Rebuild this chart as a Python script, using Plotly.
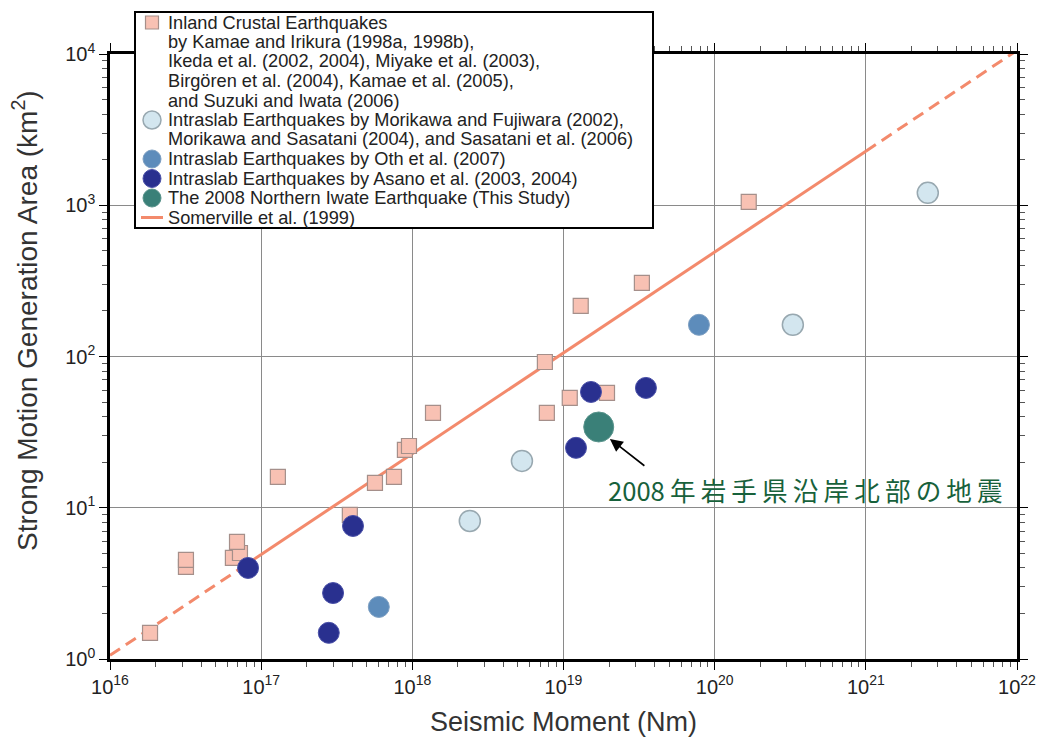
import plotly.graph_objects as go

# Inland crustal earthquakes (squares)
inland_m0 = [1.84e16, 3.18e16, 3.18e16, 6.5e16, 7.24e16, 6.92e16, 1.29e17, 3.86e17, 5.66e17,
             7.56e17, 8.93e17, 9.5e17, 1.37e18, 7.53e18, 7.76e18, 1.10e19, 1.94e19, 1.30e19,
             3.30e19, 1.68e20]
inland_area = [1.49, 4.06, 4.52, 4.66, 5.02, 5.94, 16.0, 8.96, 14.6,
               16.0, 24.1, 25.6, 42.4, 92, 42.4, 53.2, 57.4, 216,
               307, 1052]

# Intraslab by Morikawa & Fujiwara etc. (light circles)
mf_m0 = [2.40e18, 5.31e18, 3.29e20, 2.57e21]
mf_area = [8.18, 20.4, 162, 1208]

# Intraslab by Oth et al. (medium blue)
oth_m0 = [6.0e17, 7.87e19]
oth_area = [2.21, 162]

# Intraslab by Asano et al. (navy)
asano_m0 = [8.19e16, 2.99e17, 2.8e17, 4.05e17, 1.21e19, 1.52e19, 3.51e19]
asano_area = [4.0, 2.73, 1.49, 7.58, 24.9, 58.3, 62.0]

# 2008 Northern Iwate earthquake
iwate_m0 = [1.71e19]
iwate_area = [34.2]

# Somerville et al. (1999) relation: Sa = 0.22 * 2.23e-15 * M0(dyne-cm)^(2/3)
som_coef = 0.22 * 2.23e-15
som_solid_range = [1e17, 1e21]
som_low_range = [1e16, 1e17]
som_high_range = [1e21, 1e22]

x_exponents = [16, 17, 18, 19, 20, 21, 22]
y_exponents = [0, 1, 2, 3, 4]

legend_lines = [
    "Inland Crustal Earthquakes",
    "by Kamae and Irikura (1998a, 1998b),",
    "Ikeda et al. (2002, 2004), Miyake et al. (2003),",
    "Birgören et al. (2004), Kamae et al. (2005),",
    "and Suzuki and Iwata (2006)",
    "Intraslab Earthquakes by Morikawa and Fujiwara (2002),",
    "Morikawa and Sasatani (2004), and Sasatani et al. (2006)",
    "Intraslab Earthquakes by Oth et al. (2007)",
    "Intraslab Earthquakes by Asano et al. (2003, 2004)",
    "The 2008 Northern Iwate Earthquake (This Study)",
    "Somerville et al. (1999)",
]

label_text = "2008\u2009年\u2009岩\u2009手\u2009県\u2009沿\u2009岸\u2009北\u2009部\u2009の\u2009地\u2009震"


def som(m0):
    return [som_coef * (m * 1e7) ** (2.0 / 3.0) for m in m0]


# plot-area geometry in pixels
W, H = 1046, 743
L, R, T, B = 110, 29, 54, 84
PW, PH = W - L - R, H - T - B


def px(xp):
    return (xp - L) / PW


def py(yp):
    return (H - B - yp) / PH


line_color = "#f38a6c"
sq_style = dict(color="#f8c1b3", line=dict(color="#a58f8a", width=1.2))
mf_style = dict(color="#d3e6ef", line=dict(color="#98a8b0", width=1.5))
oth_style = dict(color="#5d8cbb", line=dict(color="#7d9fc2", width=1))
asano_style = dict(color="#29308f", line=dict(color="#4a50a8", width=1))
iwate_style = dict(color="#3a8078", line=dict(color="#5a948c", width=1))

fig = go.Figure()

fig.add_trace(go.Scatter(x=som_low_range, y=som(som_low_range), mode="lines",
                         line=dict(color=line_color, width=3, dash="12px,7px"),
                         showlegend=False, hoverinfo="skip"))
fig.add_trace(go.Scatter(x=som_high_range, y=som(som_high_range), mode="lines",
                         line=dict(color=line_color, width=3, dash="12px,7px"),
                         showlegend=False, hoverinfo="skip"))
fig.add_trace(go.Scatter(x=som_solid_range, y=som(som_solid_range), mode="lines",
                         name="Somerville et al. (1999)",
                         line=dict(color=line_color, width=3)))

fig.add_trace(go.Scatter(x=inland_m0, y=inland_area, mode="markers",
                         name="Inland Crustal Earthquakes",
                         marker=dict(symbol="square", size=15, **sq_style)))
fig.add_trace(go.Scatter(x=mf_m0, y=mf_area, mode="markers",
                         name="Intraslab Earthquakes by Morikawa and Fujiwara",
                         marker=dict(symbol="circle", size=21, **mf_style)))
fig.add_trace(go.Scatter(x=oth_m0, y=oth_area, mode="markers",
                         name="Intraslab Earthquakes by Oth et al. (2007)",
                         marker=dict(symbol="circle", size=21, **oth_style)))
fig.add_trace(go.Scatter(x=asano_m0, y=asano_area, mode="markers",
                         name="Intraslab Earthquakes by Asano et al. (2003, 2004)",
                         marker=dict(symbol="circle", size=21, **asano_style)))
fig.add_trace(go.Scatter(x=iwate_m0, y=iwate_area, mode="markers",
                         name="The 2008 Northern Iwate Earthquake (This Study)",
                         marker=dict(symbol="circle", size=30, **iwate_style)))

axis_common = dict(
    type="log", showline=True, linecolor="black", automargin=False,
    linewidth=2.5, mirror="allticks", ticks="outside", ticklen=8, tickwidth=1,
    tickcolor="black", showgrid=True, gridcolor="#8a8a8a", gridwidth=1,
    zeroline=False, tickfont=dict(size=20, color="#222"),
)


def minor_vals(exps):
    return [k * 10.0 ** e for e in exps[:-1] for k in range(2, 10)]


fig.update_xaxes(range=[16, 22], tickvals=[10.0 ** e for e in x_exponents],
                 ticktext=["10<sup>%d</sup>" % e for e in x_exponents],
                 minor=dict(tickvals=minor_vals(x_exponents), ticks="outside", ticklen=5,
                            tickwidth=1, tickcolor="#555", showgrid=False),
                 **axis_common)
fig.update_yaxes(range=[0, 4], tickvals=[10.0 ** e for e in y_exponents],
                 ticktext=["10<sup>%d</sup>" % e for e in y_exponents],
                 minor=dict(tickvals=minor_vals(y_exponents), ticks="outside", ticklen=5,
                            tickwidth=1, tickcolor="#555", showgrid=False),
                 **axis_common)

# axis titles
fig.add_annotation(x=px(563), y=py(722), xref="paper", yref="paper", showarrow=False,
                   xanchor="center", yanchor="middle",
                   text="Seismic Moment (Nm)", font=dict(size=27, color="#333"))
fig.add_annotation(x=px(25), y=py(321), xref="paper", yref="paper", showarrow=False,
                   xanchor="center", yanchor="middle",
                   textangle=-90, text="Strong Motion Generation Area (km<sup>2</sup>)",
                   font=dict(size=28, color="#333"))

# arrow and Japanese label
fig.add_annotation(x=19.307, y=1.455, ax=19.545, ay=1.27, xref="x", yref="y",
                   axref="x", ayref="y", text="", showarrow=True, arrowhead=2,
                   arrowsize=1.6, arrowwidth=1.6, arrowcolor="black")
fig.add_annotation(x=19.28, y=1.118, xref="x", yref="y", xanchor="left", yanchor="middle",
                   text=label_text, showarrow=False,
                   font=dict(family="Noto Sans CJK JP", size=25.6, color="#17613b"))

# legend box (drawn manually to match the tight line spacing)
shapes = [dict(type="rect", xref="paper", yref="paper", x0=px(135), x1=px(653),
               y0=py(228), y1=py(12), line=dict(color="black", width=2), fillcolor="white",
               layer="above")]
line_y = [22.5 + 19.5 * i for i in range(len(legend_lines))]
for txt, yy in zip(legend_lines, line_y):
    fig.add_annotation(x=px(166), y=py(yy), xref="paper", yref="paper", xanchor="left",
                       yanchor="middle", showarrow=False, text=txt,
                       font=dict(size=18.2, color="#222"))


def sym_rect(cy, half, style):
    return dict(type="rect", xref="paper", yref="paper", x0=px(152 - half), x1=px(152 + half),
                y0=py(cy + half), y1=py(cy - half), fillcolor=style["color"],
                line=dict(color=style["line"]["color"], width=style["line"]["width"]),
                layer="above")


def sym_circle(cy, half, style):
    d = sym_rect(cy, half, style)
    d["type"] = "circle"
    return d


shapes.append(sym_rect(line_y[0], 6.5, sq_style))
shapes.append(sym_circle(line_y[5], 9, mf_style))
shapes.append(sym_circle(line_y[7], 9, oth_style))
shapes.append(sym_circle(line_y[8], 9, asano_style))
shapes.append(sym_circle(line_y[9], 9, iwate_style))
shapes.append(dict(type="line", xref="paper", yref="paper", x0=px(141), x1=px(163),
                   y0=py(line_y[10]), y1=py(line_y[10]), line=dict(color=line_color, width=3),
                   layer="above"))

fig.update_layout(
    width=W, height=H,
    margin=dict(l=L, r=R, t=T, b=B),
    paper_bgcolor="white", plot_bgcolor="white",
    font=dict(family="Liberation Sans, Arial, sans-serif", color="#222"),
    showlegend=False,
    shapes=shapes,
)

fig.write_html("out.html")
